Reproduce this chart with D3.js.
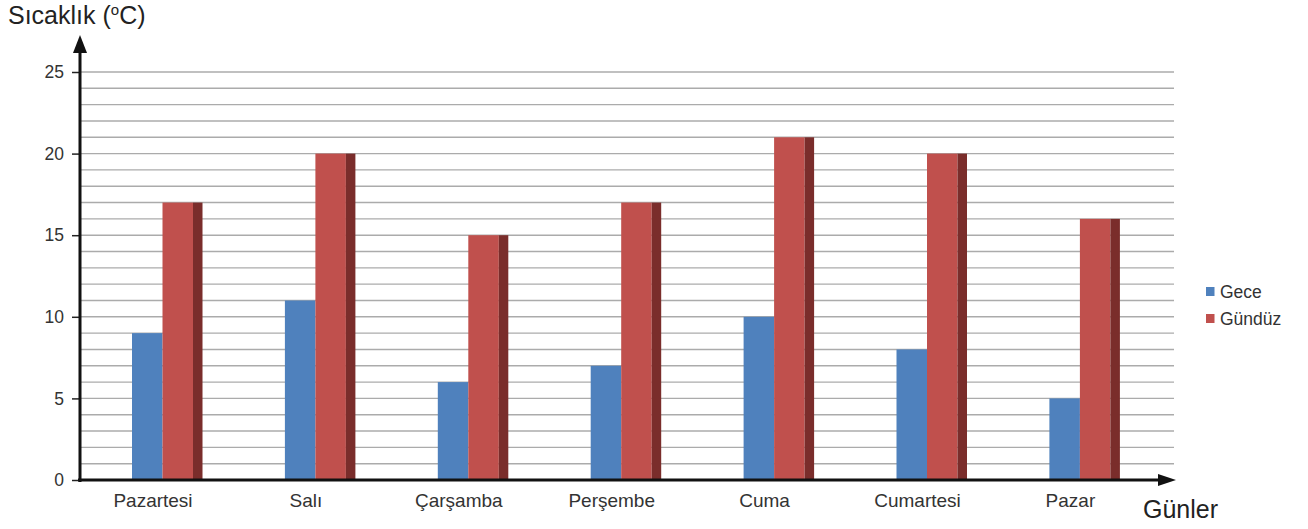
<!DOCTYPE html>
<html>
<head>
<meta charset="utf-8">
<script src="https://cdn.jsdelivr.net/npm/d3@7"></script>
<style>
  body { margin: 0; background: #fff; }
  svg { display: block; font-family: "Liberation Sans", Arial, sans-serif; }
</style>
</head>
<body>
<svg id="chart" width="1308" height="529"></svg>
<script>
const days = ['Pazartesi', 'Salı', 'Çarşamba', 'Perşembe', 'Cuma', 'Cumartesi', 'Pazar'];
const gece = [9, 11, 6, 7, 10, 8, 5];
const gunduz = [17, 20, 15, 17, 21, 20, 16];
const yTicks = [0, 5, 10, 15, 20, 25];
const seriesNames = ['Gece', 'Gündüz'];

const svg = d3.select('#chart');
const plotLeft = 80, plotBottom = 480, plotTop = 72, plotRight = 1174;

const x = d3.scaleBand(days, [plotLeft, plotLeft + 7 * 152.9]).paddingInner(0).paddingOuter(0);
const y = d3.scaleLinear([0, 25], [plotBottom, plotTop]);

// gridlines every degree
svg.append('g').selectAll('line').data(d3.range(1, 26)).join('line')
  .attr('x1', plotLeft).attr('x2', plotRight)
  .attr('y1', (d) => y(d)).attr('y2', (d) => y(d))
  .attr('stroke', '#ababab').attr('stroke-width', 1.4);

// y ticks + labels
const yAxis = svg.append('g').attr('transform', `translate(${plotLeft},0)`)
  .call(d3.axisLeft(y).tickValues(yTicks).tickSize(8).tickPadding(8));
yAxis.select('.domain').remove();
yAxis.selectAll('line').attr('stroke', '#222').attr('stroke-width', 1.5);
yAxis.selectAll('text').attr('font-size', 17.5).attr('fill', '#333').attr('font-family', '"Liberation Sans", Arial, sans-serif');

const barW = 30.5, sideW = 9.5, off = 52;
const g = svg.append('g');
g.selectAll('.gece').data(days).join('rect')
  .attr('x', (d) => x(d) + off).attr('width', barW)
  .attr('y', (d, i) => y(gece[i])).attr('height', (d, i) => plotBottom - y(gece[i]))
  .attr('fill', '#4f81bd');
g.selectAll('.gunduz').data(days).join('rect')
  .attr('x', (d) => x(d) + off + barW).attr('width', barW)
  .attr('y', (d, i) => y(gunduz[i])).attr('height', (d, i) => plotBottom - y(gunduz[i]))
  .attr('fill', '#c0504d');
g.selectAll('.side').data(days).join('rect')
  .attr('x', (d) => x(d) + off + 2 * barW).attr('width', sideW)
  .attr('y', (d, i) => y(gunduz[i])).attr('height', (d, i) => plotBottom - y(gunduz[i]))
  .attr('fill', '#7a2d2b');

// category labels
svg.append('g').selectAll('text').data(days).join('text')
  .attr('x', (d) => x(d) + 73).attr('y', 507)
  .attr('text-anchor', 'middle').attr('font-size', 19).attr('fill', '#333')
  .text((d) => d);

// axes with arrows
svg.append('line').attr('x1', plotLeft).attr('x2', plotLeft).attr('y1', plotBottom + 2).attr('y2', 50)
  .attr('stroke', '#111').attr('stroke-width', 3);
svg.append('path').attr('d', `M${plotLeft},35 L${plotLeft - 7},53 L${plotLeft + 7},53 Z`).attr('fill', '#111');
svg.append('line').attr('x1', plotLeft - 2).attr('x2', 1160).attr('y1', plotBottom).attr('y2', plotBottom)
  .attr('stroke', '#111').attr('stroke-width', 3);
svg.append('path').attr('d', `M1176,${plotBottom} L1158,${plotBottom - 6} L1158,${plotBottom + 6} Z`).attr('fill', '#111');

// titles
const t = svg.append('text').attr('x', 8).attr('y', 24).attr('font-size', 25).attr('fill', '#222');
t.append('tspan').text('Sıcaklık (');
t.append('tspan').attr('font-size', 15).attr('dy', -9).text('o');
t.append('tspan').attr('dy', 9).text('C)');
svg.append('text').attr('x', 1143).attr('y', 518).attr('font-size', 25).attr('fill', '#222').text('Günler');

// legend
const legendColors = ['#4f81bd', '#c0504d'];
const lg = svg.append('g').selectAll('g').data(seriesNames).join('g')
  .attr('transform', (d, i) => `translate(1206,${298 + i * 27})`);
lg.append('rect').attr('x', 0).attr('y', -11).attr('width', 8.5).attr('height', 9).attr('fill', (d, i) => legendColors[i]);
lg.append('text').attr('x', 14).attr('y', 0).attr('font-size', 17.5).attr('fill', '#333').text((d) => d);
</script>
</body>
</html>
